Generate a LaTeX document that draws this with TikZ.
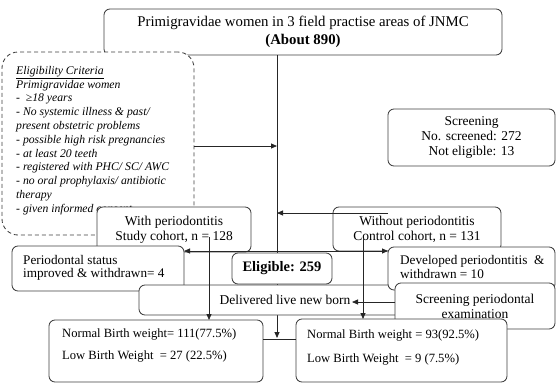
\documentclass[tikz,border=0pt]{standalone}
\usepackage{fontspec}
\setmainfont{Liberation Serif}
\usetikzlibrary{arrows.meta,calc}
\begin{document}
\begin{tikzpicture}[x=1pt,y=-1pt,
  box/.style={draw=black!75, line width=0.85pt, rounded corners=6pt, fill=white, outer sep=0pt, inner sep=0pt, align=center, font=\fontsize{13.5}{15}\selectfont},
  dbox/.style={box, dash pattern=on 4pt off 3pt, rounded corners=16pt},
  conn/.style={draw=black!85, line width=0.85pt},
  arr/.style={conn, -{Triangle[length=6pt,width=5pt]}},
  ltxt/.style={anchor=north west, inner sep=0pt, align=left},
]
\useasboundingbox (0,0) rectangle (556,383);
% coordinates on the connectors
\coordinate (mEnd) at (277,338);
\coordinate (mElig) at (277,146);
\coordinate (mW) at (277,213);
\coordinate (mSplit) at (277,251);
\coordinate (wStart) at (388,213);
\coordinate (sL) at (209,237);
\coordinate (sR) at (363,239);
\coordinate (dTip) at (352,302);
\coordinate (jn) at (277,339);

% top box
\node[box, minimum width=398pt, minimum height=46pt, font=\fontsize{14.8}{18}\selectfont] (top) at (303,32)
  {Primigravidae women in 3 field practise areas of JNMC\\\textbf{(About 890)}};

% eligibility criteria (dashed)
\node[dbox, minimum width=192pt, minimum height=183pt] (elig) at (98,143.5) {};
\node[ltxt, font=\fontsize{11.7}{13.8}\selectfont\itshape] (eligt) at (16,66)
  {\underline{Eligibility Criteria}\\
   Primigravidae women\\
   -\ \ ≥18 years\\
   - No systemic illness \& past/\\
   present obstetric problems\\
   - possible high risk pregnancies\\
   - at least 20 teeth\\
   - registered with PHC/ SC/ AWC\\
   - no oral prophylaxis/ antibiotic\\
   therapy\\
   - given informed consent};

% main vertical line
\draw[arr] (top.south -| mEnd) -- (mEnd);

% screening box
\node[box, minimum width=167pt, minimum height=57pt] (screen) at (471.5,137.5)
  {Screening\\No. screened: 272\\Not eligible: 13};

% cohorts
\node[box, minimum width=154pt, minimum height=45pt] (with) at (174,229.5)
  {With periodontitis\\Study cohort, n = 128};
\node[box, minimum width=168pt, minimum height=44pt] (without) at (417,229)
  {Without periodontitis\\Control cohort, n = 131};

\draw[arr] (mElig -| elig.east) -- (mElig);
\draw[arr] (wStart) -- (mW);

% periodontal status improved
\node[box, minimum width=172pt, minimum height=45pt] (perio) at (98,268.5) {};
\node[ltxt, font=\fontsize{13.2}{13}\selectfont] (periot) at (23,255)
  {Periodontal status\\improved \& withdrawn= 4};

% eligible
\node[box, minimum width=100pt, minimum height=31pt, font=\fontsize{14.5}{16}\selectfont\bfseries] (eligible) at (282,268.5)
  {Eligible: 259};

% delivered
\node[box, minimum width=292pt, minimum height=30pt] (deliv) at (285,300)
  {Delivered live new born};

% developed periodontitis
\node[box, minimum width=167pt, minimum height=43pt] (devel) at (471.5,268.5) {};
\node[ltxt, font=\fontsize{13.2}{14}\selectfont] (develt) at (400,255)
  {Developed periodontitis \ \&\\withdrawn = 10};

% screening periodontal examination
\node[box, minimum width=160pt, minimum height=46pt] (screenp) at (475,306)
  {Screening periodontal\\examination};

% outcome boxes
\node[box, minimum width=214pt, minimum height=62pt] (nbwL) at (156,351) {};
\node[ltxt, font=\fontsize{12.6}{22}\selectfont] (nbwLt) at (62,328.5)
  {Normal Birth weight= 111(77.5\%)\\Low Birth Weight \ = 27 (22.5\%)};
\node[box, minimum width=211pt, minimum height=63pt] (nbwR) at (401.5,350.5) {};
\node[ltxt, font=\fontsize{12.6}{24}\selectfont] (nbwRt) at (307,329.5)
  {Normal Birth weight = 93(92.5\%)\\Low Birth Weight \ = 9 (7.5\%)};

% connectors drawn on top
\draw[arr] (mSplit) -- (mSplit -| perio.east);
\draw[arr] (mSplit) -- (mSplit -| devel.west);
\draw[arr] (sL) -- (sL |- nbwL.north);
\draw[arr] (sR) -- (sR |- nbwR.north);
\draw[arr] (screenp.west |- dTip) -- (dTip);
\draw[conn] (nbwL.east |- jn) -- (nbwR.west |- jn);
\end{tikzpicture}
\end{document}
